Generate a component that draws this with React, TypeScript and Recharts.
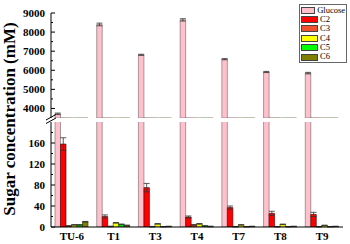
import React from 'react';
import { BarChart, Bar, XAxis, YAxis, ErrorBar, Legend } from 'recharts';

// sample groups on the x axis
const categories = ['TU-6', 'T1', 'T3', 'T4', 'T7', 'T8', 'T9'];

// concentrations (mM)
const glucose = [3720, 8400, 6810, 8640, 6580, 5910, 5850];
const glucoseErr = [40, 70, 30, 60, 30, 30, 40];
const c2 = [158, 20, 75, 19, 37, 26, 24];
const c2Err = [12, 3, 8, 2, 3, 4, 4];
const c3 = [2, 1, 0.5, 4, 0.5, 0.5, 0.5];
const c4 = [4, 8, 6, 6, 4, 5, 3];
const c5 = [4, 5, 0.5, 2, 0.5, 0.5, 0.5];
const c6 = [10, 3, 1, 1, 1, 1, 1];
const smallErr = [0.6, 0.6, 0.5, 0.6, 0.5, 0.5, 0.5];

// y ticks of the two panels (broken axis)
const upperTicks = [4000, 4500, 5000, 5500, 6000, 6500, 7000, 7500, 8000, 8500, 9000];
const upperMajor = [4000, 5000, 6000, 7000, 8000, 9000];
const lowerTicks = [0, 20, 40, 60, 80, 100, 120, 140, 160, 180];
const lowerMajor = [0, 40, 80, 120, 160];

const series = [
  { key: 'Glucose', color: '#FFC0CB', stroke: '#6e6466', err: 'glucoseErr' },
  { key: 'C2', color: '#FF0000', stroke: '#3a0000', err: 'c2Err' },
  { key: 'C3', color: '#F0502D', stroke: '#3a1a10', err: 'c3Err' },
  { key: 'C4', color: '#FFFF00', stroke: '#444400', err: 'c4Err' },
  { key: 'C5', color: '#00FF00', stroke: '#004400', err: 'c5Err' },
  { key: 'C6', color: '#808000', stroke: '#333300', err: 'c6Err' },
];

const data = categories.map((name, i) => ({
  name,
  Glucose: glucose[i],
  glucoseErr: glucoseErr[i],
  C2: c2[i],
  c2Err: c2Err[i],
  C3: c3[i],
  c3Err: smallErr[i],
  C4: c4[i],
  c4Err: smallErr[i],
  C5: c5[i],
  c5Err: smallErr[i],
  C6: c6[i],
  c6Err: smallErr[i],
}));

const FONT = '"Liberation Serif", "Times New Roman", serif';
const W = 350;
const MARGIN_RIGHT = 7;
const Y_WIDTH = 51;

// tick marks point into the plot, only majors get a label
const makeTick = (majors: number[]) => (props: any) => {
  const { x, y, payload } = props;
  const isMajor = majors.includes(payload.value);
  const ax = x + 6;
  return (
    <g>
      <line x1={ax} x2={ax + (isMajor ? 4 : 2)} y1={y} y2={y} stroke="#000" strokeWidth={1} />
      {isMajor && (
        <text x={x} y={y} dy={3.8} textAnchor="end" fontFamily={FONT} fontWeight="bold" fontSize={11} fill="#000">
          {payload.value}
        </text>
      )}
    </g>
  );
};

const YTitle = () => (
  <text
    x={0}
    y={0}
    transform="translate(15, 119) rotate(-90)"
    textAnchor="middle"
    fontFamily={FONT}
    fontWeight="bold"
    fontSize={17}
    fill="#000"
  >
    Sugar concentration (mM)
  </text>
);

const LegendBox = () => (
  <div
    style={{
      border: '1px solid #666',
      background: '#fff',
      padding: '0.5px 1px',
      fontFamily: FONT,
      fontSize: 8.5,
      lineHeight: '9.4px',
      color: '#000',
      textAlign: 'left',
    }}
  >
    {series.map((s) => (
      <div key={s.key} style={{ display: 'flex', alignItems: 'center', height: 9.4 }}>
        <span
          style={{
            display: 'inline-block',
            width: 15,
            height: 5,
            background: s.color,
            border: '1px solid #444',
            marginRight: 2,
          }}
        />
        <span style={{ color: '#000' }}>{s.key}</span>
      </div>
    ))}
  </div>
);

const renderBars = () =>
  series.map((s) => (
    <Bar key={s.key} dataKey={s.key} fill={s.color} stroke={s.stroke} strokeWidth={0.6} barSize={5.5} isAnimationActive={false}>
      <ErrorBar dataKey={s.err} width={3} stroke="#333" strokeWidth={0.8} />
    </Bar>
  ));

export default function App() {
  return (
    <div style={{ position: 'absolute', left: 0, top: 0, width: W, height: 244, background: '#fff' }}>
      {/* lower panel: 0-200 */}
      <div style={{ position: 'absolute', left: 0, top: 0 }}>
        <BarChart
          width={W}
          height={244}
          data={data}
          margin={{ top: 122, right: MARGIN_RIGHT, bottom: 0, left: 0 }}
          barGap={0}
        >
          <XAxis
            dataKey="name"
            height={17}
            tickLine={false}
            tickSize={0}
            tickMargin={5}
            axisLine={{ stroke: '#000', strokeWidth: 1 }}
            tick={{ fontFamily: FONT, fontWeight: 'bold', fontSize: 11, fill: '#000' }}
            interval={0}
          />
          <YAxis
            width={Y_WIDTH}
            type="number"
            domain={[0, 200]}
            allowDataOverflow
            ticks={lowerTicks}
            interval={0}
            tickLine={false}
            tickSize={0}
            tickMargin={6}
            axisLine={{ stroke: '#000', strokeWidth: 1 }}
            tick={makeTick(lowerMajor)}
            label={<YTitle />}
          />
          <Legend
            layout="horizontal"
            verticalAlign="middle"
            align="center"
            content={<LegendBox />}
            wrapperStyle={{ left: 299, top: 4, width: 48, height: 'auto' }}
          />
          {renderBars()}
        </BarChart>
      </div>

      {/* upper panel: 3500-9000 */}
      <div style={{ position: 'absolute', left: 0, top: 0 }}>
        <BarChart
          width={W}
          height={118}
          data={data}
          margin={{ top: 13, right: MARGIN_RIGHT, bottom: 0, left: 0 }}
          barGap={0}
        >
          <XAxis dataKey="name" hide />
          <YAxis
            width={Y_WIDTH}
            type="number"
            domain={[3500, 9000]}
            allowDataOverflow
            ticks={upperTicks}
            interval={0}
            tickLine={false}
            tickSize={0}
            tickMargin={6}
            axisLine={{ stroke: '#000', strokeWidth: 1 }}
            tick={makeTick(upperMajor)}
          />
          {renderBars()}
        </BarChart>
      </div>

      {/* axis break marks */}
      <svg width={W} height={244} style={{ position: 'absolute', left: 0, top: 0, pointerEvents: 'none' }}>
        <line x1={46} y1={120} x2={56} y2={114.5} stroke="#000" strokeWidth={1} />
        <line x1={46} y1={123.5} x2={56} y2={118} stroke="#000" strokeWidth={1} />
      </svg>
    </div>
  );
}
